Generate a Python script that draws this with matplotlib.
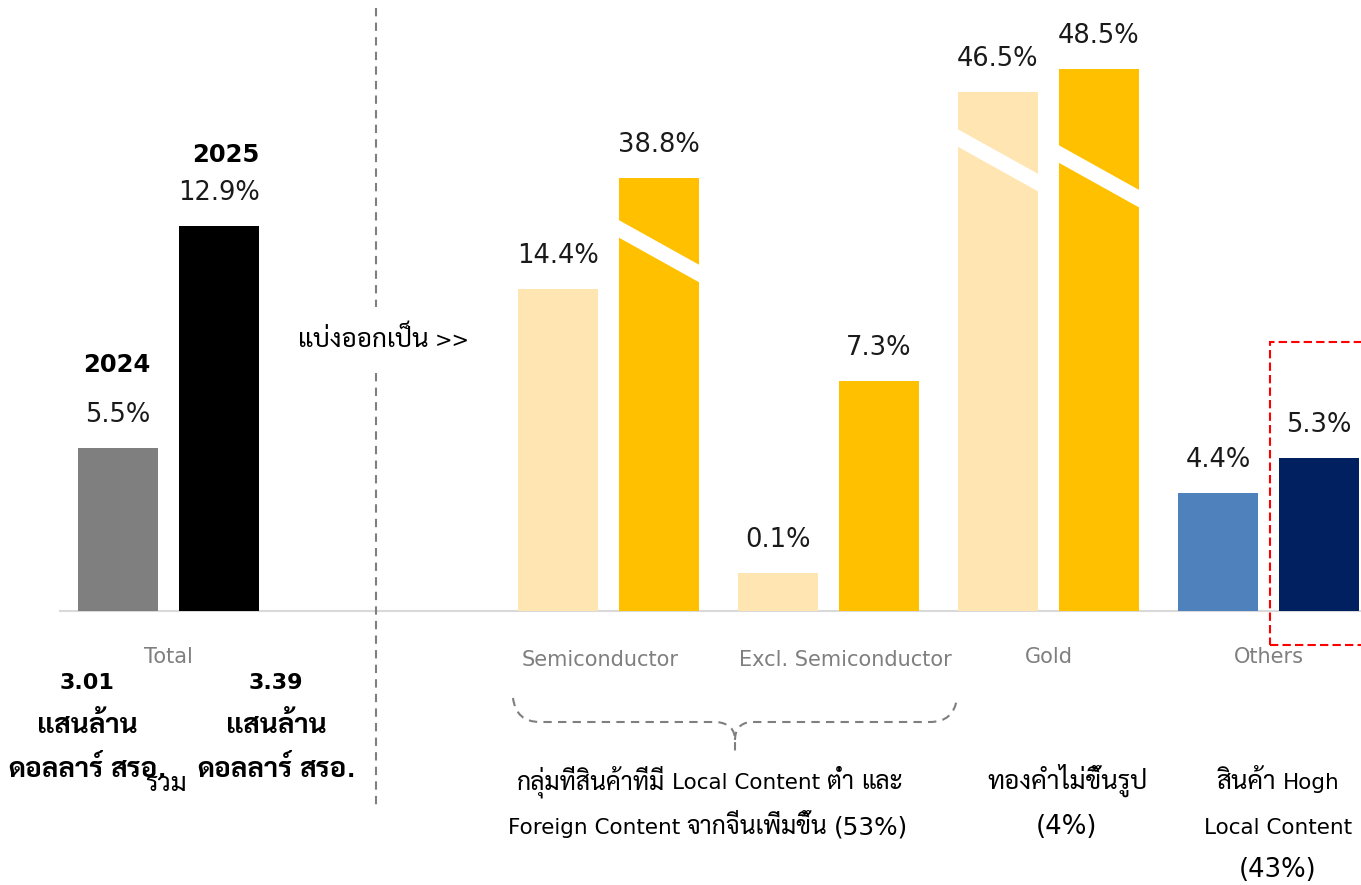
import re
import matplotlib
matplotlib.use("Agg")
import matplotlib.pyplot as plt
from matplotlib import font_manager
from matplotlib.patches import Rectangle, Polygon, PathPatch
from matplotlib.path import Path

# pick a Thai-capable family; Latin stays in DejaVu Sans
_names = {f.name for f in font_manager.fontManager.ttflist}
thai_font = next((n for n in ["Sarabun", "Noto Sans Thai Looped", "Noto Sans Thai",
                              "Athiti", "Bai Jamjuree"] if n in _names), "DejaVu Sans")
plt.rcParams["font.family"] = ["DejaVu Sans", thai_font]

# data
groups = ["Total", "Semiconductor", "Excl. Semiconductor", "Gold", "Others"]
group_pos = [0, 2, 3, 4, 5]
labels_2024 = ["5.5%", "14.4%", "0.1%", "46.5%", "4.4%"]
labels_2025 = ["12.9%", "38.8%", "7.3%", "48.5%", "5.3%"]
# drawn bar heights (broken axis)
height_2024 = [5.49, 10.84, 1.28, 17.47, 3.97]
height_2025 = [12.96, 14.58, 7.74, 18.25, 5.15]
colors_2024 = ["#7F7F7F", "#FFE5B1", "#FFE5B1", "#FFE5B1", "#4F81BD"]
colors_2025 = ["#000000", "#FFC000", "#FFC000", "#FFC000", "#002060"]
# bars with a break mark: (group index, year, height at left edge of slash)
breaks = [(1, 2025, 13.20), (3, 2024, 16.26), (3, 2025, 15.72)]

total_left = ["3.01", "แสนล้าน", "ดอลลาร์ สรอ."]
total_right = ["3.39", "แสนล้าน", "ดอลลาร์ สรอ."]
notes = [
    ["กลุ่มที่สินค้าที่มี Local Content ต่ำ และ", "Foreign Content จากจีนเพิ่มขึ้น (53%)"],
    ["ทองคำไม่ขึ้นรูป", "(4%)"],
    ["สินค้า Hogh", "Local Content", "(43%)"],
]

# layout helpers: 1 x-unit = 220 px, 1 y-unit = 29.7 px, baseline at 611 px
W, H = 1361, 885
XU, YU = 220.0, 29.7
X0, Y0 = 168.5, 611.0


def px(x):
    return (x - X0) / XU


def py(y):
    return (Y0 - y) / YU


fig = plt.figure(figsize=(W / 100, H / 100), dpi=100)
ax = fig.add_axes([0, 0, 1, 1])
ax.set_xlim(px(0), px(W))
ax.set_ylim(py(H), py(0))
ax.axis("off")
renderer = fig.canvas.get_renderer()

RUNS = re.compile(r"([\u0E00-\u0E7F]+|\([^)]*\))")


def mixed_text(xc, base, s, size, weight="normal", color="black",
               thai_scale=1.25, paren_scale=1.25):
    """Centre a line at xc (px) with baseline at base (px); Thai runs drawn larger."""
    runs = []
    for part in RUNS.split(s):
        if not part:
            continue
        fam, fs = "DejaVu Sans", size
        if re.fullmatch(r"[\u0E00-\u0E7F]+", part):
            fam, fs = thai_font, size * thai_scale
        elif part.startswith("("):
            fs = size * paren_scale
        sp = 0.318 * fs * 100 / 72
        core = part.strip(" ")
        if not core:
            runs.append((None, len(part) * sp, 0, 0))
            continue
        lead = len(part) - len(part.lstrip(" "))
        trail = len(part) - len(part.rstrip(" "))
        t = ax.text(0, 0, core, fontsize=fs, family=fam, fontweight=weight,
                    color=color, ha="left", va="baseline")
        w = t.get_window_extent(renderer).width
        runs.append((t, lead * sp, w, trail * sp))
    total = sum(a + b + c for _, a, b, c in runs)
    x = xc - total / 2
    for t, a, w, c in runs:
        if t is not None:
            t.set_position((px(x + a), py(base)))
        x += a + w + c


bw = 80 / XU
off = 50.5 / XU
x24 = [g - off for g in group_pos]
x25 = [g + off for g in group_pos]

ax.bar(x24, height_2024, width=bw, color=colors_2024, zorder=2)
ax.bar(x25, height_2025, width=bw, color=colors_2025, zorder=2)

# break slashes
thick = 17.5 / YU
drop = 47 / YU
for gi, yr, yl in breaks:
    xc = group_pos[gi] + (off if yr == 2025 else -off)
    xl, xr = xc - bw / 2 - 0.01, xc + bw / 2 + 0.01
    ax.add_patch(Polygon([(xl, yl), (xr, yl - drop), (xr, yl - drop - thick),
                          (xl, yl - thick)], closed=True, facecolor="white",
                         edgecolor="none", zorder=3))

# value labels
lab_off = 26 / YU
for x, h, t in zip(x24 + x25, height_2024 + height_2025, labels_2024 + labels_2025):
    ax.text(x, h + lab_off, t, ha="center", va="baseline", fontsize=18.5, color="#1A1A1A")

# year labels on total
ax.text(px(117), py(372), "2024", ha="center", va="baseline", fontsize=17.5, fontweight="bold")
ax.text(px(226), py(162), "2025", ha="center", va="baseline", fontsize=17.5, fontweight="bold")

# baseline
ax.plot([px(60), px(W)], [0, 0], color="#D9D9D9", lw=1.5, zorder=1)

# category labels
cat_x = [168, 600, 845, 1049, 1269]
cat_y = [657, 660, 660, 657, 657]
for name, cx, cy in zip(groups, cat_x, cat_y):
    ax.text(px(cx), py(cy), name, ha="center", va="center", fontsize=15, color="#7F7F7F")

# totals in value
for t1, t2, base in zip(total_left, total_right, [689, 733, 777]):
    mixed_text(87, base, t1, 16, weight="bold")
    mixed_text(276, base, t2, 16, weight="bold")
mixed_text(166, 791, "รวม", 15)

# divider
for y_a, y_b in [(8, 307), (373, 808)]:
    ax.plot([px(376), px(376)], [py(y_a), py(y_b)], color="#7F7F7F", lw=1.5,
            ls=(0, (4, 3)), zorder=1)
mixed_text(384, 347, "แบ่งออกเป็น >>", 15)

# brace under semiconductor groups
brace = [(513, 698), (516, 722), (540, 722), (717, 722), (735, 724), (735, 740),
         (735, 752), (735, 740), (735, 724), (750, 722), (930, 722), (954, 722),
         (957, 698)]
codes = [Path.MOVETO, Path.CURVE3, Path.CURVE3, Path.LINETO, Path.CURVE3, Path.CURVE3,
         Path.LINETO, Path.MOVETO, Path.CURVE3, Path.CURVE3, Path.LINETO, Path.CURVE3,
         Path.CURVE3]
verts = [(px(a), py(b)) for a, b in brace]
ax.add_patch(PathPatch(Path(verts, codes), facecolor="none", edgecolor="#7F7F7F",
                       lw=1.5, ls=(0, (4, 3))))

# group notes
semi_note, gold_note, other_note = notes
mixed_text(710, 789, semi_note[0], 15.5, thai_scale=1.15)
mixed_text(708, 834, semi_note[1], 15.5, thai_scale=1.15, paren_scale=1.15)
for t, base in zip(gold_note, [789, 834]):
    mixed_text(1067, base, t, 15)
for t, base in zip(other_note, [789, 834, 877]):
    mixed_text(1278, base, t, 15.5, thai_scale=1.2, paren_scale=1.2)

# highlight box
ax.add_patch(Rectangle((px(1270), py(645)), px(1370) - px(1270), py(342) - py(645),
                       facecolor="none", edgecolor="#FF0000", lw=1.5, ls=(0, (4, 2)),
                       clip_on=False, zorder=5))

fig.savefig("out.png", dpi=100)
